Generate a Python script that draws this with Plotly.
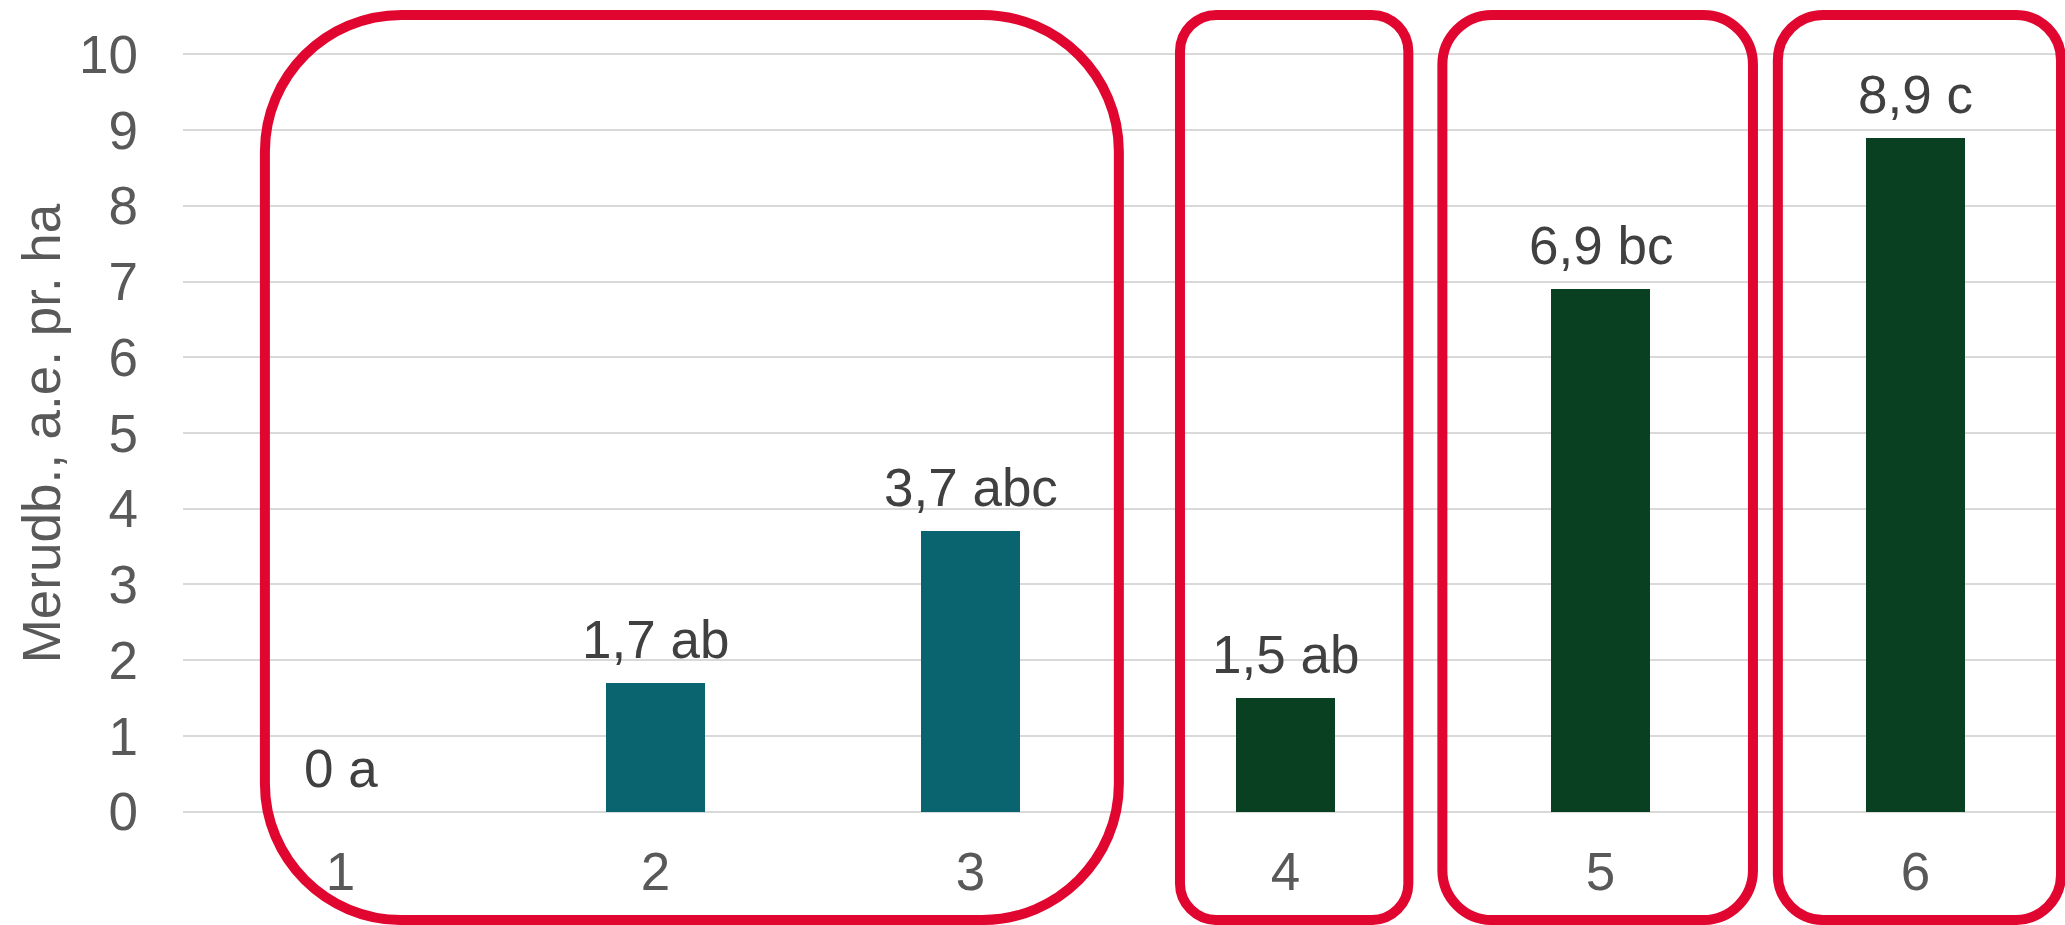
import plotly.graph_objects as go

# Treatments and results (Merudbytte, a.e. pr. ha)
categories = [1, 2, 3, 4, 5, 6]
values = [0, 1.7, 3.7, 1.5, 6.9, 8.9]
letters = ["a", "ab", "abc", "ab", "bc", "c"]
bar_colors = ["#09646F", "#09646F", "#09646F", "#0A4022", "#0A4022", "#0A4022"]

y_ticks = list(range(0, 11))

# Grouping frames around treatments (x extents in category units, y extents in value units)
group_x0 = [0.760, 3.665, 4.498, 5.563]
group_x1 = [3.471, 4.390, 5.484, 6.462]
group_y0 = -1.43
group_y1 = 10.52

FONT = "Liberation Sans, Arial, sans-serif"
W, H = 2065, 925
M_L, M_R, M_T, M_B = 183, 0, 47, 105
X_RANGE = [0.5, 6.4746]
Y_RANGE = [-0.1096, 10.096]

plot_w = W - M_L - M_R
plot_h = H - M_T - M_B


def x_paper(x):
    return (x - X_RANGE[0]) / (X_RANGE[1] - X_RANGE[0])


def y_paper(y):
    return (y - Y_RANGE[0]) / (Y_RANGE[1] - Y_RANGE[0])


def rounded_rect_path(x0, x1, y0, y1):
    """Rounded rectangle path in paper coordinates, radius set in pixels."""
    px0, px1 = x_paper(x0), x_paper(x1)
    py0, py1 = y_paper(y0), y_paper(y1)
    r_px = 0.16 * (px1 - px0) * plot_w
    rx = r_px / plot_w
    ry = r_px / plot_h
    k = 0.5523
    p = [
        f"M {px0 + rx},{py1}",
        f"L {px1 - rx},{py1}",
        f"C {px1 - rx + k * rx},{py1} {px1},{py1 - ry + k * ry} {px1},{py1 - ry}",
        f"L {px1},{py0 + ry}",
        f"C {px1},{py0 + ry - k * ry} {px1 - rx + k * rx},{py0} {px1 - rx},{py0}",
        f"L {px0 + rx},{py0}",
        f"C {px0 + rx - k * rx},{py0} {px0},{py0 + ry - k * ry} {px0},{py0 + ry}",
        f"L {px0},{py1 - ry}",
        f"C {px0},{py1 - ry + k * ry} {px0 + rx - k * rx},{py1} {px0 + rx},{py1}",
        "Z",
    ]
    return " ".join(p)


fig = go.Figure()
fig.add_trace(
    go.Bar(
        x=categories,
        y=values,
        width=0.314,
        marker=dict(color=bar_colors, line=dict(width=0)),
        showlegend=False,
        hoverinfo="skip",
    )
)

# Value labels with significance letters
for c, v, l in zip(categories, values, letters):
    txt = f"{v:g}".replace(".", ",") + " " + l
    fig.add_annotation(
        x=c, y=v, xref="x", yref="y",
        text=txt, showarrow=False,
        yanchor="bottom", xanchor="center", yshift=12,
        font=dict(family=FONT, size=53, color="#404040"),
    )

for x0, x1 in zip(group_x0, group_x1):
    fig.add_shape(
        type="path",
        xref="paper", yref="paper",
        path=rounded_rect_path(x0, x1, group_y0, group_y1),
        line=dict(color="#E10630", width=10),
        fillcolor="rgba(0,0,0,0)",
        layer="above",
    )

fig.update_layout(
    width=W, height=H, autosize=False,
    margin=dict(l=M_L, r=M_R, t=M_T, b=M_B, pad=0),
    paper_bgcolor="white", plot_bgcolor="white",
    font=dict(family=FONT, size=53, color="#595959"),
    bargap=0,
)
fig.update_xaxes(
    range=X_RANGE, tickvals=categories, ticktext=[str(c) for c in categories],
    showgrid=False, zeroline=False, showline=False, ticks="",
    ticklabelstandoff=16,
    tickfont=dict(family=FONT, size=53, color="#595959"),
    automargin=False, fixedrange=True,
)
fig.update_yaxes(
    range=Y_RANGE, tickvals=y_ticks,
    showgrid=True, gridcolor="#D9D9D9", gridwidth=2,
    zeroline=False, showline=False, ticks="",
    ticklabelstandoff=44,
    tickfont=dict(family=FONT, size=53, color="#595959"),
    title=dict(text="Merudb., a.e. pr. ha", standoff=1,
               font=dict(family=FONT, size=53, color="#595959")),
    automargin=False, fixedrange=True,
)

fig.write_html("out.html")
